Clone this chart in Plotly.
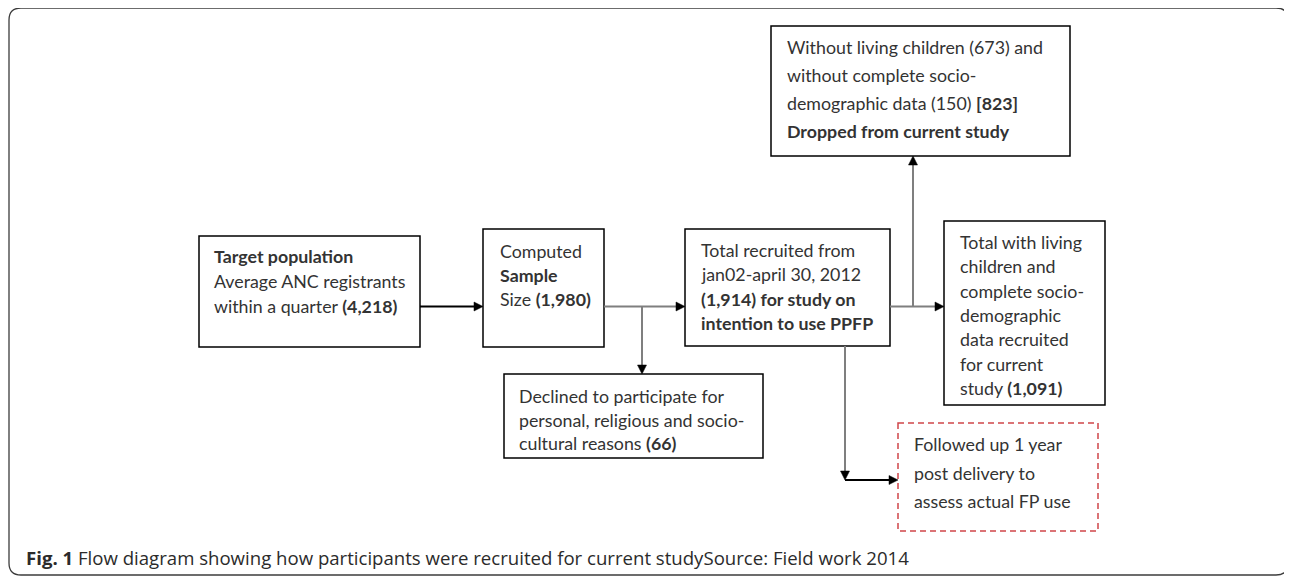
import plotly.graph_objects as go

# ---------------- text content (data) ----------------
target_lines = ["<b>Target population</b>", "Average ANC registrants", "within a quarter <b>(4,218)</b>"]
sample_lines = ["Computed", "<b>Sample</b>", "Size <b>(1,980)</b>"]
recruited_lines = ["Total recruited from", "jan02-april 30, 2012", "<b>(1,914) for study on</b>", "<b>intention to use PPFP</b>"]
dropped_lines = ["Without living children (673) and", "without complete socio-",
                 "demographic data (150) <b>[823]</b>", "<b>Dropped from current study</b>"]
included_lines = ["Total with living", "children and", "complete socio-", "demographic",
                  "data recruited", "for current", "study <b>(1,091)</b>"]
declined_lines = ["Declined to participate for", "personal, religious and socio-", "cultural reasons <b>(66)</b>"]
followup_lines = ["Followed up 1 year", "post delivery to", "assess actual FP use"]
caption_bold = "Fig. 1"
caption_text = "Flow diagram showing how participants were recruited for current studySource: Field work 2014"

# ---------------- layout geometry (pixels, y downward) ----------------
W, H = 1292, 578
OFF = 8  # page body margin of the browser
boxes = {
    "target":    dict(x0=199, x1=420, y0=236, y1=347, tx=212, ty=256, gap=25.0, lines=target_lines, dash=False),
    "sample":    dict(x0=483, x1=604, y0=229, y1=347, tx=498, ty=251, gap=24.0, lines=sample_lines, dash=False),
    "recruited": dict(x0=685, x1=890, y0=229, y1=346, tx=699, ty=250, gap=24.3, lines=recruited_lines, dash=False),
    "included":  dict(x0=944, x1=1105, y0=221, y1=405, tx=958, ty=242, gap=24.3, lines=included_lines, dash=False),
    "dropped":   dict(x0=771, x1=1070, y0=26, y1=156, tx=785, ty=47, gap=28.0, lines=dropped_lines, dash=False),
    "declined":  dict(x0=504, x1=763, y0=374, y1=458, tx=517, ty=396, gap=23.5, lines=declined_lines, dash=False),
    "followup":  dict(x0=898, x1=1098, y0=423, y1=531, tx=912, ty=444, gap=28.5, lines=followup_lines, dash=True),
}
main_y = 306.5
branch_declined_x = 642
branch_dropped_x = 913
down_x = 845
follow_y = 480

TEXT_FONT = dict(family="Lato", size=17.8, color="#333333")
GREY = "#7f7f7f"
BLACK = "#000000"
RED = "#d0464a"

fig = go.Figure()
shapes = []
annotations = []

# outer rounded frame
fx0, fy0, fx1, fy1, r = 9, 8, 1288, 575, 12
frame = (f"M {fx0+r},{fy0} L {fx1-r},{fy0} Q {fx1},{fy0} {fx1},{fy0+r} "
         f"L {fx1},{fy1-r} Q {fx1},{fy1} {fx1-r},{fy1} L {fx0+r},{fy1} "
         f"Q {fx0},{fy1} {fx0},{fy1-r} L {fx0},{fy0+r} Q {fx0},{fy0} {fx0+r},{fy0} Z")
shapes.append(dict(type="path", path=frame, xref="x", yref="y",
                   line=dict(color="#3c3c3c", width=1.3)))

# boxes and texts
for b in boxes.values():
    shapes.append(dict(type="rect", xref="x", yref="y", x0=b["x0"], x1=b["x1"], y0=b["y0"], y1=b["y1"],
                       line=dict(color=RED if b["dash"] else BLACK, width=1.5,
                                 dash="6px,4px" if b["dash"] else "solid"),
                       fillcolor="rgba(0,0,0,0)"))
    for i, t in enumerate(b["lines"]):
        annotations.append(dict(x=b["tx"], y=b["ty"] + i * b["gap"], xref="x", yref="y",
                                text=t, showarrow=False, xanchor="left", yanchor="middle",
                                font=TEXT_FONT))


def line(x0, y0, x1, y1, color, width=2):
    shapes.append(dict(type="line", xref="x", yref="y", x0=x0, y0=y0, x1=x1, y1=y1,
                       line=dict(color=color, width=width)))


def head(x, y, direction, L=9, hw=4.5):
    if direction == "right":
        p = f"M {x},{y} L {x-L},{y-hw} L {x-L},{y+hw} Z"
    elif direction == "down":
        p = f"M {x},{y} L {x-hw},{y-L} L {x+hw},{y-L} Z"
    else:  # up
        p = f"M {x},{y} L {x-hw},{y+L} L {x+hw},{y+L} Z"
    shapes.append(dict(type="path", xref="x", yref="y", path=p, fillcolor=BLACK,
                       line=dict(color=BLACK, width=0.5)))


t, s, rc, inc, dr, de, fu = (boxes[k] for k in
                             ["target", "sample", "recruited", "included", "dropped", "declined", "followup"])

# target -> sample
line(t["x1"], main_y, s["x0"] - 6, main_y, BLACK)
head(s["x0"], main_y, "right")
# sample -> recruited (with branch to declined)
line(s["x1"], main_y, rc["x0"] - 6, main_y, GREY)
head(rc["x0"], main_y, "right")
line(branch_declined_x, main_y, branch_declined_x, de["y0"] - 6, GREY)
head(branch_declined_x, de["y0"], "down")
# recruited -> included (with branch up to dropped)
line(rc["x1"], main_y, inc["x0"] - 6, main_y, GREY)
head(inc["x0"], main_y, "right")
line(branch_dropped_x, main_y, branch_dropped_x, dr["y1"] + 6, GREY)
head(branch_dropped_x, dr["y1"], "up")
# recruited -> follow up
line(down_x, rc["y1"], down_x, follow_y - 6, GREY)
head(down_x, follow_y, "down")
line(down_x, follow_y, fu["x0"] - 6, follow_y, BLACK)
head(fu["x0"], follow_y, "right")

# caption
annotations.append(dict(x=24, y=557, xref="x", yref="y", showarrow=False, xanchor="left",
                        yanchor="middle",
                        text=f"<b>{caption_bold}</b> {caption_text}",
                        font=dict(family="Open Sans", size=18.6, color="#2b2b2b")))

fig.update_layout(
    width=W, height=H, margin=dict(l=0, r=0, t=0, b=0),
    paper_bgcolor="white", plot_bgcolor="white",
    xaxis=dict(range=[OFF, W + OFF], visible=False, fixedrange=True),
    yaxis=dict(range=[H + OFF, OFF], visible=False, fixedrange=True),
    shapes=shapes, annotations=annotations, showlegend=False,
)
fig.write_html("out.html")
